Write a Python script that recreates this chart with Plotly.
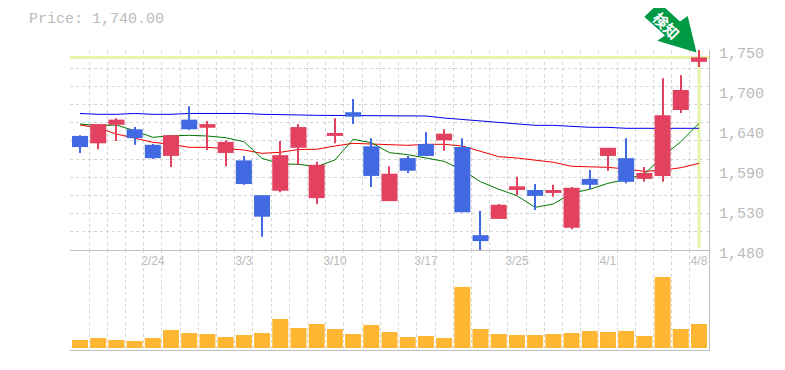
import plotly.graph_objects as go

categories = ["2/20","2/21","2/22","2/23","2/24","2/25","2/26","2/27","2/28","3/1","3/3","3/4","3/5","3/6","3/10","3/11","3/12","3/13","3/14","3/17","3/18","3/19","3/21","3/24","3/25","3/26","3/27","3/28","3/31","4/1","4/2","4/3","4/4","4/7","4/8"]
positions = list(range(35))
opens  = [1634,1624,1649,1643,1622,1607,1656,1645,1611,1601,1554,1560,1618,1550,1634,1666,1620,1546,1604,1623,1628,1619,1500,1522,1561,1561,1557,1510,1576,1607,1604,1576,1580,1669,1734]
highs  = [1635,1650,1658,1646,1623,1635,1674,1654,1628,1607,1554,1627,1650,1599,1658,1684,1631,1593,1607,1639,1643,1631,1533,1542,1579,1569,1568,1565,1588,1618,1631,1592,1712,1716,1750]
lows   = [1611,1616,1627,1622,1603,1592,1642,1615,1593,1568,1498,1558,1595,1542,1624,1650,1565,1546,1584,1607,1614,1531,1479,1522,1554,1534,1552,1508,1562,1587,1570,1572,1572,1665,1727]
closes = [1619,1650,1656,1631,1604,1635,1643,1650,1626,1569,1525,1608,1646,1595,1638,1660,1580,1583,1587,1607,1637,1531,1492,1541,1566,1553,1561,1564,1568,1618,1572,1584,1662,1696,1740]
ma_blue = [1664.3,1663.2,1663.2,1664.3,1663.2,1663.2,1664.3,1664.3,1664.3,1664.3,1663.2,1663.2,1662.3,1661.8,1661.8,1661.8,1661.8,1661.8,1661.8,1660.9,1658.2,1656.2,1653.8,1651.5,1650.1,1648.3,1648.3,1647,1645.6,1645.6,1644.3,1644.3,1644.3,1644.3,1644.3]
ma_red = [1648.8,1644.7,1636.6,1630.8,1625.4,1622.7,1618.6,1618.6,1617.3,1615,1610.5,1611.9,1615.7,1616,1620.4,1624,1623.1,1622.7,1621.3,1622.7,1622.7,1620.4,1612.7,1606,1604.2,1601.5,1598.4,1593,1592,1591.6,1589.4,1586.2,1587.6,1591.1,1597]
ma_green = [1650.1,1647.8,1648.8,1641,1632.1,1634.3,1634.8,1633.9,1631.6,1626.2,1603.8,1596.1,1595.7,1592.5,1601.5,1629.4,1624.9,1611.4,1608.7,1603.8,1599.7,1588,1572.2,1562,1553.3,1537.6,1542.1,1556.5,1562,1570,1575.4,1582.6,1606,1626.2,1651]
volumes = [8,10,8,7,10,18,15,14,11,13,15,29,20,24,19,14,23,16,11,12,10,61,19,14,13,13,14,15,17,16,17,12,71,19,24]
last_price = 1740
x_tick_vals = [4,9,14,19,24,29,34]
x_tick_text = ["2/24","3/3","3/10","3/17","3/25","4/1","4/8"]
y_tick_vals = [1480,1534,1588,1642,1696,1750]
y_tick_text = ["1,480","1,530","1,590","1,640","1,700","1,750"]
x_grid = [k-0.5 for k in range(36)]
y_grid = [1480+270*k/11 for k in range(12)]

GRID = "#d4d4d4"; AXIS = "#bdbdbd"; TXT = "#bbbbbb"; RED = "#e2425f"; BLUE = "#4169e1"; LIME = "#e4f6a6"; ARROW = "#009944"

# page pixel -> paper fraction of the plot area (70..709, 50..350)
def px(x): return (x-70)/639
def py(y): return (350-y)/300
arrow_pts = [(659.3,2.7),(680,21.4),(687.7,16),(696.5,52.5),(657.3,40.7),(665,35.4),(644.3,16.7)]
arrow_path = "M " + " L ".join(f"{px(a):.5f} {py(b):.5f}" for a,b in arrow_pts) + " Z"

fig = go.Figure()
fig.add_trace(go.Scatter(x=[-0.55,34.55], y=[last_price,last_price], mode="lines", line=dict(color=LIME,width=3), xaxis="x", yaxis="y", hoverinfo="skip"))
fig.add_trace(go.Scatter(x=[34,34], y=[1482,1750], mode="lines", line=dict(color=LIME,width=3), xaxis="x", yaxis="y", hoverinfo="skip"))
for s,c in ((ma_blue,"#0000ee"),(ma_red,"#ee0000"),(ma_green,"#007700")):
    fig.add_trace(go.Scatter(x=positions, y=s, mode="lines", line=dict(color=c,width=1), xaxis="x", yaxis="y"))

colors = [RED if c >= o else BLUE for o,c in zip(opens,closes)]
# candles live on an overlaying axis pair so they are painted above the lines
fig.add_trace(go.Bar(x=positions, base=lows, y=[h-l for h,l in zip(highs,lows)], width=0.06,
                     marker=dict(color=colors,line=dict(width=0)), xaxis="x3", yaxis="y3"))
fig.add_trace(go.Bar(x=positions, base=[min(o,c) for o,c in zip(opens,closes)], y=[abs(c-o) for o,c in zip(opens,closes)], width=0.88,
                     marker=dict(color=colors,line=dict(width=0)), xaxis="x3", yaxis="y3"))
fig.add_trace(go.Bar(x=positions, y=volumes, width=0.88, marker=dict(color="#ffb733",line=dict(width=0)), xaxis="x2", yaxis="y2"))

minor_x = dict(tickvals=x_grid, showgrid=True, gridcolor=GRID, griddash="3px,3px", gridwidth=1, ticklen=0)
minor_y = dict(tickvals=y_grid, showgrid=True, gridcolor=GRID, griddash="3px,3px", gridwidth=1, ticklen=0)
fig.update_layout(
    width=769, height=354, margin=dict(l=62,r=68,t=42,b=12,autoexpand=False),
    paper_bgcolor="white", plot_bgcolor="white", showlegend=False, barmode="overlay",
    title=dict(text="Price: 1,740.00", x=21/769, xref="container", xanchor="left", y=1-10/354, yref="container", yanchor="middle",
               font=dict(family="Liberation Mono", size=15, color=TXT)),
    xaxis=dict(domain=[0,1], anchor="y", range=[-0.55,34.55], tickmode="array", tickvals=x_tick_vals, ticktext=x_tick_text,
               showgrid=False, minor=minor_x, zeroline=False, showline=True, linecolor=AXIS, linewidth=1, ticklen=0, ticklabelstandoff=0,
               tickfont=dict(family="Liberation Sans", size=12, color=TXT)),
    yaxis=dict(domain=[1/3,1], anchor="x", side="right", range=[1480,1750], tickmode="array", tickvals=y_tick_vals, ticktext=y_tick_text,
               showgrid=False, minor=minor_y, zeroline=False, showline=True, linecolor=AXIS, linewidth=1, ticklen=0, ticklabelstandoff=6, ticklabelshift=3,
               tickfont=dict(family="Liberation Mono", size=15, color=TXT)),
    xaxis2=dict(domain=[0,1], anchor="y2", range=[-0.55,34.55], tickmode="array", tickvals=[], showticklabels=False,
                showgrid=False, minor=minor_x, zeroline=False, showline=True, linecolor=AXIS, linewidth=1),
    yaxis2=dict(domain=[0,1/3], anchor="x2", side="right", range=[-2,98], showgrid=False, showticklabels=False, zeroline=False,
                showline=True, linecolor=AXIS, linewidth=1, ticklen=0),
    xaxis3=dict(overlaying="x", anchor="y3", range=[-0.55,34.55], visible=False),
    yaxis3=dict(overlaying="y", anchor="x3", range=[1480,1750], visible=False),
    shapes=[dict(type="path", xref="paper", yref="paper", path=arrow_path, fillcolor=ARROW, line=dict(width=0), layer="above")],
    annotations=[dict(text="<b>検知</b>", xref="paper", yref="paper", x=px(667), y=py(25), textangle=45, showarrow=False,
                      xanchor="center", yanchor="middle", font=dict(family="Noto Sans CJK JP", size=15, color="white"))],
)
fig.write_html("out.html")
